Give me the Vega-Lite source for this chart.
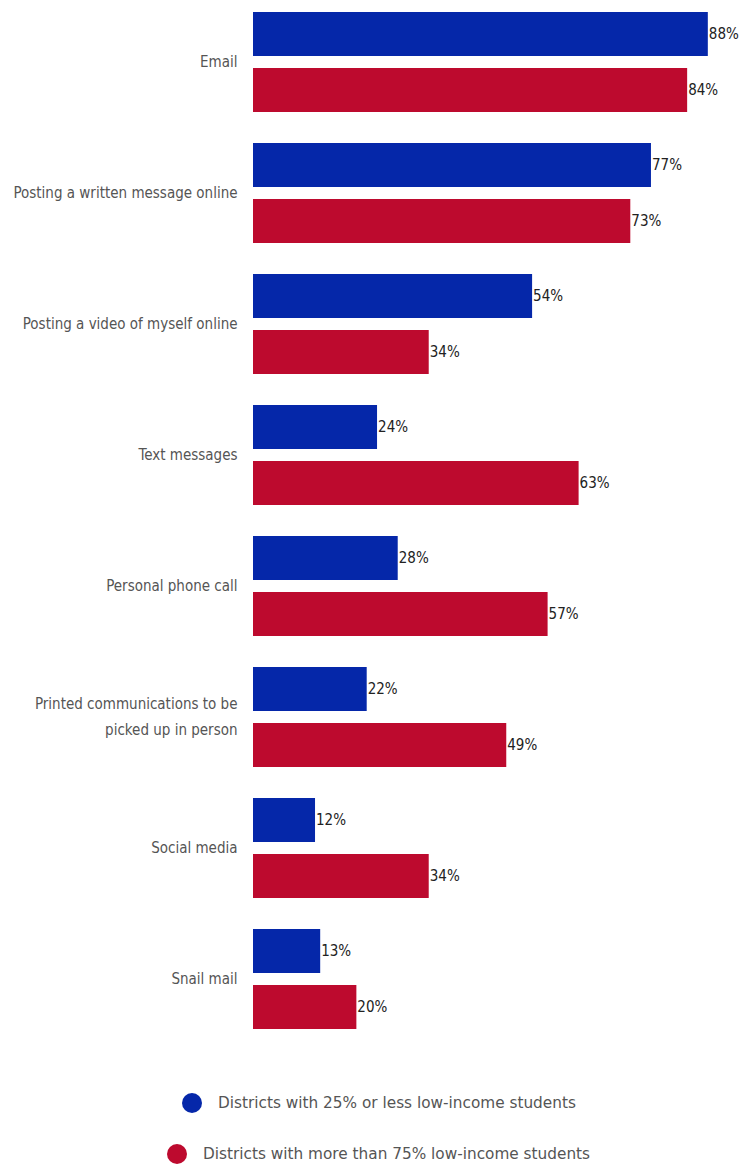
{
  "$schema": "https://vega.github.io/schema/vega-lite/v6.json",
  "autosize": "none",
  "width": 491,
  "height": 1017,
  "padding": {"left": 253, "top": 12, "right": 2, "bottom": 137},
  "background": "white",
  "config": {"view": {"stroke": null}, "font": "DejaVu Sans Condensed, DejaVu Sans"},
  "data": {"values": [
    {"cat": "Email", "group": "Districts with 25% or less low-income students", "v": 88},
    {"cat": "Email", "group": "Districts with more than 75% low-income students", "v": 84},
    {"cat": "Posting a written message online", "group": "Districts with 25% or less low-income students", "v": 77},
    {"cat": "Posting a written message online", "group": "Districts with more than 75% low-income students", "v": 73},
    {"cat": "Posting a video of myself online", "group": "Districts with 25% or less low-income students", "v": 54},
    {"cat": "Posting a video of myself online", "group": "Districts with more than 75% low-income students", "v": 34},
    {"cat": "Text messages", "group": "Districts with 25% or less low-income students", "v": 24},
    {"cat": "Text messages", "group": "Districts with more than 75% low-income students", "v": 63},
    {"cat": "Personal phone call", "group": "Districts with 25% or less low-income students", "v": 28},
    {"cat": "Personal phone call", "group": "Districts with more than 75% low-income students", "v": 57},
    {"cat": "Printed communications to be|picked up in person", "group": "Districts with 25% or less low-income students", "v": 22},
    {"cat": "Printed communications to be|picked up in person", "group": "Districts with more than 75% low-income students", "v": 49},
    {"cat": "Social media", "group": "Districts with 25% or less low-income students", "v": 12},
    {"cat": "Social media", "group": "Districts with more than 75% low-income students", "v": 34},
    {"cat": "Snail mail", "group": "Districts with 25% or less low-income students", "v": 13},
    {"cat": "Snail mail", "group": "Districts with more than 75% low-income students", "v": 20}
  ]},
  "encoding": {
    "y": {"field": "cat", "type": "nominal", "sort": null, "title": null,
      "scale": {"paddingInner": 0.237, "paddingOuter": 0},
      "axis": {"domain": false, "ticks": false, "labelPadding": 16, "labelFontSize": 15, "labelLimit": 300, "labelColor": "#555555", "labelFont": "DejaVu Sans Condensed, DejaVu Sans", "labelExpr": "split(datum.label, '|')", "labelLineHeight": 26,
        "labelOffset": {"condition": {"test": "indexof(datum.value, '|') >= 0", "value": -13}, "value": 0}}},
    "yOffset": {"field": "group", "type": "nominal", "scale": {"domain": ["Districts with 25% or less low-income students", "Districts with more than 75% low-income students"], "paddingInner": 0.214, "paddingOuter": 0}},
    "x": {"field": "v", "type": "quantitative", "scale": {"domain": [0, 95], "nice": false}, "axis": null}
  },
  "layer": [
    {"transform": [{"filter": "datum.group == 'Districts with 25% or less low-income students'"}],
     "mark": {"type": "bar", "cornerRadius": 0},
     "encoding": {"color": {"field": "group", "type": "nominal", "title": null,
       "scale": {"range": ["#0527A9"]},
       "legend": {"orient": "none", "legendX": -71, "legendY": 1081, "symbolType": "circle", "symbolSize": 400, "symbolStrokeWidth": 0, "labelFontSize": 15.3, "labelColor": "#555555", "labelFont": "DejaVu Sans", "labelOffset": 16, "labelLimit": 500}}}},
    {"transform": [{"filter": "datum.group == 'Districts with more than 75% low-income students'"}],
     "mark": {"type": "bar", "cornerRadius": 0},
     "encoding": {"color": {"field": "group", "type": "nominal", "title": null,
       "scale": {"range": ["#BD0A2E"]},
       "legend": {"orient": "none", "legendX": -86, "legendY": 1132, "symbolType": "circle", "symbolSize": 400, "symbolStrokeWidth": 0, "labelFontSize": 15.3, "labelColor": "#555555", "labelFont": "DejaVu Sans", "labelOffset": 16, "labelLimit": 500}}}},
    {"transform": [{"calculate": "datum.v + '%'", "as": "lbl"}],
     "mark": {"type": "text", "align": "left", "baseline": "middle", "dx": 1, "fontSize": 15, "color": "#222222", "font": "DejaVu Sans Condensed, DejaVu Sans"},
     "encoding": {"text": {"field": "lbl", "type": "nominal"}, "detail": {"field": "group"}}}
  ],
  "resolve": {"scale": {"color": "independent"}, "legend": {"color": "independent"}}
}
